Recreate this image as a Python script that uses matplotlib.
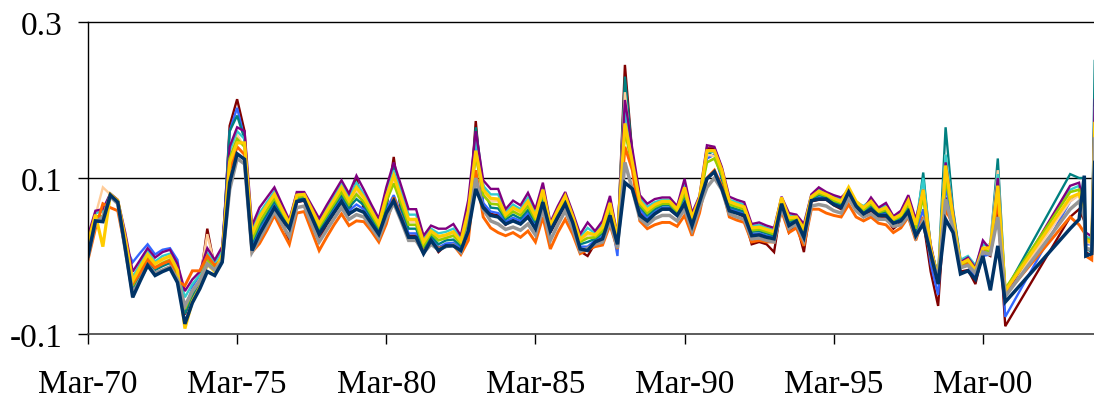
import numpy as np
import matplotlib
matplotlib.use("Agg")
import matplotlib.pyplot as plt

plt.rcParams["font.family"] = ["Liberation Serif", "DejaVu Serif"]

# Quarter index 0 = Mar-70; quarterly data to q123, then a few irregular late points
n_quarters = 124
tail_q = [131.7, 132.9, 133.6, 133.8, 134.6, 135.0]

tick_q = [0, 20, 40, 60, 80, 100, 120]
tick_labels = ["Mar-70", "Mar-75", "Mar-80", "Mar-85", "Mar-90", "Mar-95", "Mar-00"]
y_ticks = [-0.1, 0.1, 0.3]
y_labels = ["-0.1", "0.1", "0.3"]

navy = [
    0.000, 0.045, 0.044, 0.078, 0.069, 0.010, -0.053, -0.032, -0.012, -0.025,
    -0.020, -0.016, -0.034, -0.087, -0.060, -0.042, -0.020, -0.025, -0.008, 0.094,
    0.131, 0.124, 0.007, 0.028, 0.045, 0.062, 0.048, 0.035, 0.070, 0.072,
    0.050, 0.028, 0.042, 0.056, 0.070, 0.054, 0.060, 0.056, 0.042, 0.028,
    0.055, 0.071, 0.048, 0.024, 0.024, 0.003, 0.020, 0.007, 0.013, 0.013,
    0.007, 0.032, 0.086, 0.062, 0.052, 0.050, 0.041, 0.045, 0.041, 0.050,
    0.035, 0.069, 0.032, 0.050, 0.067, 0.043, 0.009, 0.007, 0.018, 0.022,
    0.052, 0.015, 0.094, 0.086, 0.052, 0.045, 0.054, 0.060, 0.060, 0.052,
    0.067, 0.039, 0.069, 0.099, 0.108, 0.086, 0.058, 0.055, 0.052, 0.026,
    0.027, 0.024, 0.022, 0.067, 0.039, 0.045, 0.024, 0.071, 0.073, 0.073,
    0.066, 0.062, 0.082, 0.064, 0.054, 0.060, 0.052, 0.052, 0.042, 0.045,
    0.057, 0.026, 0.041, 0.003, -0.036, 0.047, 0.030, -0.023, -0.019, -0.030,
    0.000, -0.044, 0.013, -0.059,
    0.035, 0.047, 0.103, 0.000, 0.003, 0.120,
]

purple = [
    0.026, 0.058, 0.060, 0.080, 0.072, 0.030, -0.020, -0.005, 0.010, -0.002,
    0.005, 0.008, -0.010, -0.045, -0.030, -0.020, 0.010, -0.005, 0.012, 0.140,
    0.165, 0.160, 0.039, 0.062, 0.075, 0.088, 0.067, 0.046, 0.082, 0.082,
    0.065, 0.048, 0.065, 0.081, 0.097, 0.080, 0.103, 0.085, 0.066, 0.048,
    0.088, 0.120, 0.090, 0.060, 0.060, 0.026, 0.039, 0.035, 0.035, 0.041,
    0.026, 0.072, 0.160, 0.097, 0.086, 0.086, 0.060, 0.071, 0.065, 0.081,
    0.060, 0.094, 0.043, 0.064, 0.082, 0.056, 0.028, 0.043, 0.032, 0.045,
    0.077, 0.026, 0.200, 0.137, 0.078, 0.067, 0.073, 0.075, 0.075, 0.064,
    0.099, 0.055, 0.077, 0.142, 0.140, 0.114, 0.076, 0.072, 0.069, 0.041,
    0.043, 0.039, 0.036, 0.076, 0.055, 0.053, 0.041, 0.079, 0.088, 0.082,
    0.078, 0.075, 0.084, 0.066, 0.060, 0.075, 0.062, 0.068, 0.051, 0.058,
    0.078, 0.047, 0.085, 0.015, -0.030, 0.120, 0.056, -0.008, -0.002, -0.015,
    0.020, 0.008, 0.100, -0.050,
    0.090, 0.094, 0.060, 0.030, 0.025, 0.200,
]

cyan = [
    0.021, 0.055, 0.057, 0.080, 0.071, 0.026, -0.027, -0.010, 0.006, -0.007,
    0.000, 0.003, -0.015, -0.053, -0.036, -0.024, 0.004, -0.009, 0.008, 0.135,
    0.160, 0.150, 0.033, 0.055, 0.069, 0.083, 0.063, 0.044, 0.080, 0.080,
    0.062, 0.044, 0.060, 0.076, 0.092, 0.075, 0.094, 0.079, 0.061, 0.044,
    0.081, 0.110, 0.082, 0.053, 0.053, 0.021, 0.035, 0.029, 0.031, 0.035,
    0.022, 0.064, 0.150, 0.090, 0.079, 0.079, 0.056, 0.066, 0.060, 0.075,
    0.055, 0.089, 0.041, 0.061, 0.079, 0.053, 0.024, 0.036, 0.029, 0.040,
    0.072, 0.024, 0.190, 0.130, 0.074, 0.063, 0.069, 0.072, 0.072, 0.062,
    0.093, 0.052, 0.075, 0.135, 0.133, 0.110, 0.072, 0.069, 0.066, 0.038,
    0.040, 0.036, 0.033, 0.074, 0.052, 0.051, 0.038, 0.077, 0.085, 0.080,
    0.076, 0.072, 0.087, 0.069, 0.064, 0.072, 0.060, 0.065, 0.049, 0.055,
    0.074, 0.043, 0.100, 0.012, -0.028, 0.130, 0.058, -0.005, 0.000, -0.012,
    0.015, 0.012, 0.105, -0.048,
    0.085, 0.090, 0.060, 0.025, 0.022, 0.190,
]

gold = [
    0.017, 0.053, 0.012, 0.079, 0.071, 0.023, -0.032, -0.014, 0.002, -0.010,
    -0.004, 0.000, -0.018, -0.093, -0.058, -0.040, -0.010, -0.020, 0.000, 0.120,
    0.145, 0.145, 0.028, 0.050, 0.065, 0.079, 0.060, 0.042, 0.078, 0.079,
    0.060, 0.041, 0.057, 0.072, 0.088, 0.071, 0.088, 0.075, 0.058, 0.041,
    0.076, 0.103, 0.075, 0.047, 0.047, 0.018, 0.032, 0.025, 0.027, 0.031,
    0.019, 0.058, 0.135, 0.085, 0.074, 0.073, 0.053, 0.062, 0.057, 0.070,
    0.051, 0.085, 0.039, 0.059, 0.077, 0.051, 0.021, 0.030, 0.027, 0.037,
    0.068, 0.022, 0.170, 0.120, 0.070, 0.059, 0.066, 0.070, 0.070, 0.060,
    0.088, 0.049, 0.074, 0.135, 0.135, 0.110, 0.070, 0.066, 0.063, 0.036,
    0.037, 0.034, 0.031, 0.075, 0.049, 0.050, 0.035, 0.076, 0.083, 0.079,
    0.074, 0.070, 0.088, 0.070, 0.062, 0.070, 0.058, 0.062, 0.048, 0.053,
    0.071, 0.040, 0.085, 0.010, -0.030, 0.116, 0.050, -0.010, -0.005, -0.018,
    0.010, 0.010, 0.090, -0.045,
    0.075, 0.080, 0.055, 0.020, 0.018, 0.170,
]

yellowgreen = [
    0.012, 0.051, 0.051, 0.079, 0.070, 0.019, -0.038, -0.020, -0.002, -0.015,
    -0.009, -0.005, -0.023, -0.068, -0.046, -0.032, -0.006, -0.016, 0.001, 0.125,
    0.150, 0.140, 0.021, 0.043, 0.059, 0.074, 0.057, 0.040, 0.075, 0.077,
    0.057, 0.037, 0.052, 0.067, 0.082, 0.066, 0.079, 0.069, 0.053, 0.037,
    0.070, 0.093, 0.067, 0.040, 0.040, 0.013, 0.029, 0.020, 0.023, 0.026,
    0.016, 0.050, 0.130, 0.078, 0.067, 0.066, 0.050, 0.057, 0.052, 0.064,
    0.046, 0.080, 0.037, 0.056, 0.074, 0.049, 0.018, 0.023, 0.024, 0.032,
    0.063, 0.020, 0.160, 0.115, 0.066, 0.055, 0.063, 0.067, 0.067, 0.057,
    0.081, 0.046, 0.073, 0.120, 0.125, 0.104, 0.066, 0.063, 0.060, 0.033,
    0.034, 0.031, 0.028, 0.071, 0.046, 0.049, 0.032, 0.075, 0.080, 0.077,
    0.071, 0.068, 0.085, 0.068, 0.059, 0.067, 0.056, 0.059, 0.046, 0.051,
    0.066, 0.035, 0.075, 0.008, -0.028, 0.100, 0.048, -0.012, -0.008, -0.020,
    0.008, 0.005, 0.090, -0.042,
    0.082, 0.085, 0.055, 0.022, 0.020, 0.160,
]

teal = [
    0.008, 0.049, 0.049, 0.079, 0.070, 0.016, -0.043, -0.024, -0.005, -0.018,
    -0.013, -0.009, -0.027, -0.074, -0.051, -0.035, -0.011, -0.019, -0.002, 0.160,
    0.180, 0.150, 0.017, 0.038, 0.054, 0.070, 0.054, 0.038, 0.074, 0.075,
    0.055, 0.034, 0.049, 0.064, 0.078, 0.062, 0.073, 0.065, 0.049, 0.034,
    0.065, 0.115, 0.061, 0.035, 0.035, 0.010, 0.026, 0.015, 0.020, 0.021,
    0.013, 0.044, 0.165, 0.090, 0.062, 0.061, 0.047, 0.053, 0.048, 0.059,
    0.043, 0.077, 0.035, 0.054, 0.072, 0.047, 0.015, 0.018, 0.022, 0.029,
    0.060, 0.018, 0.230, 0.130, 0.064, 0.052, 0.060, 0.065, 0.065, 0.056,
    0.077, 0.044, 0.071, 0.130, 0.135, 0.100, 0.063, 0.060, 0.057, 0.031,
    0.032, 0.029, 0.026, 0.070, 0.044, 0.047, 0.029, 0.073, 0.078, 0.076,
    0.070, 0.066, 0.084, 0.067, 0.057, 0.065, 0.055, 0.057, 0.045, 0.049,
    0.063, 0.032, 0.107, 0.010, -0.025, 0.165, 0.060, -0.005, -0.003, -0.014,
    0.012, 0.015, 0.125, -0.045,
    0.105, 0.100, 0.100, 0.010, 0.005, 0.250,
]

royalblue = [
    0.004, 0.047, 0.046, 0.078, 0.069, 0.013, -0.008, 0.004, 0.015, 0.002,
    0.008, 0.010, -0.005, -0.070, -0.040, -0.025, -0.005, -0.010, 0.005, 0.160,
    0.190, 0.150, 0.012, 0.033, 0.050, 0.066, 0.051, 0.037, 0.072, 0.074,
    0.052, 0.031, 0.045, 0.060, 0.074, 0.058, 0.066, 0.060, 0.046, 0.031,
    0.060, 0.078, 0.054, 0.029, 0.029, 0.006, 0.023, 0.011, 0.016, 0.017,
    0.010, 0.038, 0.150, 0.068, 0.057, 0.055, 0.044, 0.049, 0.045, 0.055,
    0.039, 0.073, 0.034, 0.052, 0.069, 0.045, 0.012, 0.012, 0.020, 0.025,
    0.056, 0.000, 0.190, 0.115, 0.060, 0.048, 0.057, 0.062, 0.062, 0.054,
    0.072, 0.041, 0.070, 0.125, 0.130, 0.098, 0.061, 0.058, 0.055, 0.028,
    0.029, 0.026, 0.024, 0.068, 0.041, 0.046, 0.027, 0.072, 0.075, 0.074,
    0.068, 0.064, 0.083, 0.065, 0.056, 0.062, 0.053, 0.054, 0.043, 0.047,
    0.060, 0.029, 0.060, -0.010, -0.050, 0.090, 0.040, -0.015, -0.012, -0.028,
    0.000, 0.002, 0.080, -0.078,
    0.070, 0.080, 0.050, 0.015, 0.015, 0.190,
]

peach = [
    0.014, 0.052, 0.088, 0.079, 0.071, 0.021, -0.035, -0.017, 0.000, -0.012,
    -0.006, -0.003, -0.021, -0.064, -0.044, -0.030, 0.028, -0.012, 0.003, 0.130,
    0.155, 0.140, 0.025, 0.047, 0.062, 0.076, 0.058, 0.041, 0.077, 0.078,
    0.058, 0.039, 0.055, 0.070, 0.085, 0.068, 0.084, 0.072, 0.055, 0.039,
    0.073, 0.098, 0.071, 0.044, 0.044, 0.016, 0.030, 0.022, 0.025, 0.028,
    0.017, 0.054, 0.125, 0.081, 0.071, 0.070, 0.051, 0.059, 0.054, 0.067,
    0.049, 0.083, 0.038, 0.058, 0.075, 0.050, 0.019, 0.027, 0.026, 0.035,
    0.066, 0.021, 0.210, 0.118, 0.068, 0.057, 0.064, 0.068, 0.068, 0.059,
    0.085, 0.048, 0.073, 0.130, 0.128, 0.105, 0.068, 0.064, 0.061, 0.034,
    0.036, 0.032, 0.030, 0.072, 0.048, 0.049, 0.033, 0.075, 0.081, 0.078,
    0.073, 0.069, 0.085, 0.068, 0.060, 0.068, 0.057, 0.061, 0.047, 0.052,
    0.069, 0.038, 0.080, 0.010, -0.028, 0.130, 0.052, -0.010, -0.005, -0.016,
    0.012, 0.015, 0.110, -0.050,
    0.070, 0.078, 0.050, 0.018, 0.015, 0.160,
]

darkred = [
    0.002, 0.046, 0.046, 0.078, 0.069, 0.011, -0.050, -0.030, -0.010, -0.022,
    -0.018, -0.014, -0.032, -0.075, -0.050, -0.035, 0.035, -0.015, -0.005, 0.167,
    0.201, 0.160, 0.009, 0.029, 0.046, 0.063, 0.046, 0.018, 0.069, 0.071,
    0.048, 0.020, 0.040, 0.055, 0.070, 0.052, 0.100, 0.060, 0.042, 0.024,
    0.060, 0.127, 0.055, 0.026, 0.026, 0.004, 0.021, 0.005, 0.014, 0.014,
    0.005, 0.040, 0.173, 0.065, 0.054, 0.052, 0.040, 0.046, 0.042, 0.051,
    0.036, 0.070, 0.030, 0.048, 0.066, 0.040, 0.006, 0.000, 0.016, 0.022,
    0.052, 0.015, 0.245, 0.130, 0.055, 0.046, 0.055, 0.060, 0.060, 0.052,
    0.068, 0.036, 0.068, 0.138, 0.138, 0.112, 0.058, 0.055, 0.050, 0.015,
    0.018, 0.015, 0.005, 0.065, 0.030, 0.042, 0.005, 0.070, 0.072, 0.072,
    0.065, 0.060, 0.080, 0.062, 0.050, 0.058, 0.048, 0.049, 0.035, 0.043,
    0.055, 0.022, 0.045, -0.020, -0.064, 0.075, 0.035, -0.020, -0.018, -0.036,
    0.005, 0.000, 0.060, -0.090,
    0.050, 0.060, 0.045, 0.005, 0.000, 0.140,
]

gray = [
    -0.002, 0.043, 0.050, 0.076, 0.067, 0.008, -0.048, -0.030, -0.012, -0.022,
    -0.018, -0.014, -0.030, -0.064, -0.045, -0.032, -0.010, -0.018, -0.006, 0.085,
    0.125, 0.118, 0.005, 0.022, 0.039, 0.057, 0.041, 0.025, 0.062, 0.064,
    0.041, 0.018, 0.033, 0.048, 0.062, 0.047, 0.053, 0.050, 0.037, 0.023,
    0.048, 0.068, 0.045, 0.020, 0.020, 0.004, 0.015, 0.008, 0.012, 0.014,
    0.005, 0.035, 0.100, 0.060, 0.045, 0.041, 0.034, 0.037, 0.033, 0.041,
    0.027, 0.060, 0.020, 0.040, 0.058, 0.035, 0.006, 0.010, 0.015, 0.018,
    0.045, 0.010, 0.120, 0.085, 0.048, 0.040, 0.048, 0.052, 0.052, 0.045,
    0.060, 0.033, 0.062, 0.088, 0.100, 0.085, 0.054, 0.050, 0.047, 0.022,
    0.023, 0.020, 0.018, 0.062, 0.035, 0.041, 0.020, 0.064, 0.066, 0.064,
    0.058, 0.055, 0.074, 0.058, 0.050, 0.054, 0.047, 0.047, 0.038, 0.040,
    0.052, 0.024, 0.045, 0.002, -0.030, 0.073, 0.035, -0.015, -0.012, -0.022,
    0.005, 0.002, 0.050, -0.052,
    0.060, 0.070, 0.050, 0.010, 0.008, 0.150,
]

orange = [
    -0.005, 0.035, 0.067, 0.062, 0.058, 0.010, -0.035, -0.022, -0.005, -0.015,
    -0.010, -0.006, -0.032, -0.038, -0.019, -0.019, 0.000, -0.012, -0.005, 0.110,
    0.140, 0.130, 0.005, 0.016, 0.033, 0.052, 0.033, 0.015, 0.055, 0.057,
    0.032, 0.007, 0.024, 0.040, 0.054, 0.039, 0.045, 0.044, 0.032, 0.018,
    0.041, 0.075, 0.050, 0.022, 0.020, 0.006, 0.016, 0.010, 0.012, 0.014,
    0.002, 0.020, 0.110, 0.050, 0.036, 0.030, 0.026, 0.030, 0.024, 0.032,
    0.018, 0.050, 0.009, 0.030, 0.047, 0.028, 0.003, 0.008, 0.012, 0.014,
    0.040, 0.009, 0.140, 0.110, 0.045, 0.035, 0.040, 0.043, 0.043, 0.038,
    0.052, 0.026, 0.055, 0.100, 0.110, 0.090, 0.050, 0.046, 0.043, 0.018,
    0.020, 0.018, 0.018, 0.058, 0.030, 0.036, 0.013, 0.060, 0.060, 0.055,
    0.052, 0.050, 0.066, 0.050, 0.045, 0.050, 0.042, 0.040, 0.030, 0.036,
    0.050, 0.020, 0.050, 0.000, -0.035, 0.060, 0.040, -0.015, -0.010, -0.020,
    0.008, 0.012, 0.070, -0.050,
    0.050, 0.040, 0.030, 0.000, -0.005, 0.130,
]

x = np.concatenate([np.arange(n_quarters), tail_q])

fig = plt.figure(figsize=(10.94, 4.02), dpi=100)
ax = fig.add_axes([0.0804, 0.1667, 0.9196, 0.7761])

# draw order: thin colours first, thick lines on top
series = [
    (darkred, "#800000", 1.7),
    (royalblue, "#3366FF", 1.7),
    (teal, "#008080", 1.7),
    (peach, "#FFCC99", 1.7),
    (cyan, "#33CCCC", 1.7),
    (purple, "#800080", 1.7),
    (yellowgreen, "#99CC00", 1.9),
    (orange, "#FF6600", 2.1),
    (gold, "#FFCC00", 2.3),
    (gray, "#969696", 2.5),
    (navy, "#003366", 2.5),
]
for vals, col, lw in series:
    ax.plot(x, vals, color=col, lw=lw, solid_joinstyle="miter")

for yv in [0.1, 0.3]:
    ax.axhline(yv, color="black", lw=1.0, clip_on=False, zorder=0)

ax.set_xlim(0, 134.9)
ax.set_ylim(-0.1, 0.3)
ax.set_xticks(tick_q)
ax.set_xticklabels(tick_labels)
ax.set_yticks(y_ticks)
ax.set_yticklabels(y_labels)
ax.tick_params(axis="both", direction="out", length=7.5, width=1.0, labelsize=24, color="black")
ax.tick_params(axis="x", pad=17)
ax.tick_params(axis="y", pad=11)

for side in ["top", "right"]:
    ax.spines[side].set_visible(False)
ax.spines["left"].set_linewidth(1.0)
ax.spines["bottom"].set_linewidth(1.2)
ax.spines["bottom"].set_color("#404040")

fig.savefig("out.png", dpi=100)
